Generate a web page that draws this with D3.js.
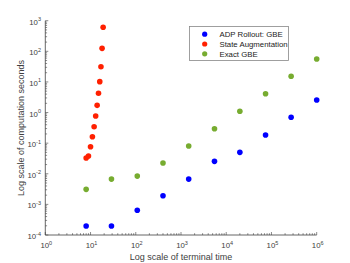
<!doctype html>
<html>
<head>
<meta charset="utf-8">
<script src="https://cdn.jsdelivr.net/npm/d3@7"></script>
<style>
  body { margin: 0; background: #fff; }
  svg { display: block; font-family: "Liberation Sans", Arial, sans-serif; }
</style>
</head>
<body>
<svg id="chart" width="350" height="263"></svg>
<script>
// terminal time shared by ADP rollout and exact GBE
var gbeTime = [8, 29, 108, 400, 1480, 5500, 20000, 74000, 272000, 1000000];
var rolloutSec = [1.96e-4, 1.96e-4, 6.4e-4, 1.92e-3, 6.7e-3, 0.0255, 0.050, 0.184, 0.70, 2.56];
var exactSec = [3.1e-3, 6.7e-3, 8.4e-3, 0.0224, 0.081, 0.296, 1.10, 4.1, 15.3, 56];

var augTime = [8, 9, 10, 11, 12, 13, 14, 15, 16, 17, 18, 19];
var augSec = [0.0327, 0.038, 0.0766, 0.162, 0.344, 0.77, 1.72, 4.25, 10.2, 31.4, 125, 608];

var xExp = [0, 1, 2, 3, 4, 5, 6];
var yExp = [-4, -3, -2, -1, 0, 1, 2, 3];

var series = [
  { name: 'ADP Rollout: GBE', color: '#0000ff', xs: gbeTime, ys: rolloutSec },
  { name: 'State Augmentation', color: '#ff2000', xs: augTime, ys: augSec },
  { name: 'Exact GBE', color: '#77ac30', xs: gbeTime, ys: exactSec }
];

var svg = d3.select('#chart');
var axisColor = '#404040';

var x = d3.scaleLog().domain([1, 1e6]).range([45.3, 316.7]);
var y = d3.scaleLog().domain([1e-4, 1e3]).range([235, 20.7]);

// minor + major ticks, drawn inward like matlab
function logTicks(lo, hi) {
  var out = [];
  for (var e = lo; e < hi; e++) {
    for (var m = 1; m < 10; m++) out.push({ v: m * Math.pow(10, e), major: m === 1 });
  }
  out.push({ v: Math.pow(10, hi), major: true });
  return out;
}

var g = svg.append('g');

// x axis
g.append('line')
  .attr('x1', x(1)).attr('x2', x(1e6))
  .attr('y1', y(1e-4)).attr('y2', y(1e-4))
  .attr('stroke', axisColor).attr('stroke-width', 0.8);
g.selectAll('.xt').data(logTicks(0, 6)).enter().append('line')
  .attr('x1', function (d) { return x(d.v); }).attr('x2', function (d) { return x(d.v); })
  .attr('y1', y(1e-4)).attr('y2', function (d) { return y(1e-4) - (d.major ? 3 : 1.8); })
  .attr('stroke', axisColor).attr('stroke-width', 0.6);

// y axis
g.append('line')
  .attr('x1', x(1)).attr('x2', x(1))
  .attr('y1', y(1e-4)).attr('y2', y(1e3))
  .attr('stroke', axisColor).attr('stroke-width', 0.8);
g.selectAll('.yt').data(logTicks(-4, 3)).enter().append('line')
  .attr('y1', function (d) { return y(d.v); }).attr('y2', function (d) { return y(d.v); })
  .attr('x1', x(1)).attr('x2', function (d) { return x(1) + (d.major ? 3 : 1.8); })
  .attr('stroke', axisColor).attr('stroke-width', 0.6);

function powLabel(sel) {
  sel.append('tspan').text('10');
  sel.append('tspan').attr('font-size', 5.5).attr('dy', -3.5).text(function (d) { return d; });
}

g.selectAll('.xl').data(xExp).enter().append('text')
  .attr('x', function (d) { return x(Math.pow(10, d)) + 1; })
  .attr('y', 248)
  .attr('text-anchor', 'middle')
  .attr('font-size', 7.8).attr('fill', axisColor)
  .call(powLabel);

g.selectAll('.yl').data(yExp).enter().append('text')
  .attr('x', 41)
  .attr('y', function (d) { return y(Math.pow(10, d)) + 4; })
  .attr('text-anchor', 'end')
  .attr('font-size', 7.8).attr('fill', axisColor)
  .call(powLabel);

g.append('text')
  .attr('x', 181).attr('y', 260)
  .attr('text-anchor', 'middle')
  .attr('font-size', 9).attr('fill', axisColor)
  .text('Log scale of terminal time');

g.append('text')
  .attr('transform', 'translate(24,128) rotate(-90)')
  .attr('text-anchor', 'middle')
  .attr('font-size', 9).attr('fill', axisColor)
  .text('Log scale of computation seconds');

// points
series.forEach(function (s) {
  g.selectAll(null).data(s.ys).enter().append('circle')
    .attr('cx', function (d, i) { return x(s.xs[i]); })
    .attr('cy', function (d) { return y(d); })
    .attr('r', 2.8)
    .attr('fill', s.color);
});

// legend
var leg = g.append('g');
leg.append('rect')
  .attr('x', 189.5).attr('y', 26.5).attr('width', 99).attr('height', 34)
  .attr('fill', '#fff').attr('stroke', '#888').attr('stroke-width', 0.8);
series.forEach(function (s, i) {
  var ry = 34.2 + i * 9.8;
  leg.append('circle').attr('cx', 204.7).attr('cy', ry).attr('r', 2.6).attr('fill', s.color);
  leg.append('text').attr('x', 219.5).attr('y', ry + 2.8)
    .attr('font-size', 7.8).attr('fill', '#222').text(s.name);
});
</script>
</body>
</html>
